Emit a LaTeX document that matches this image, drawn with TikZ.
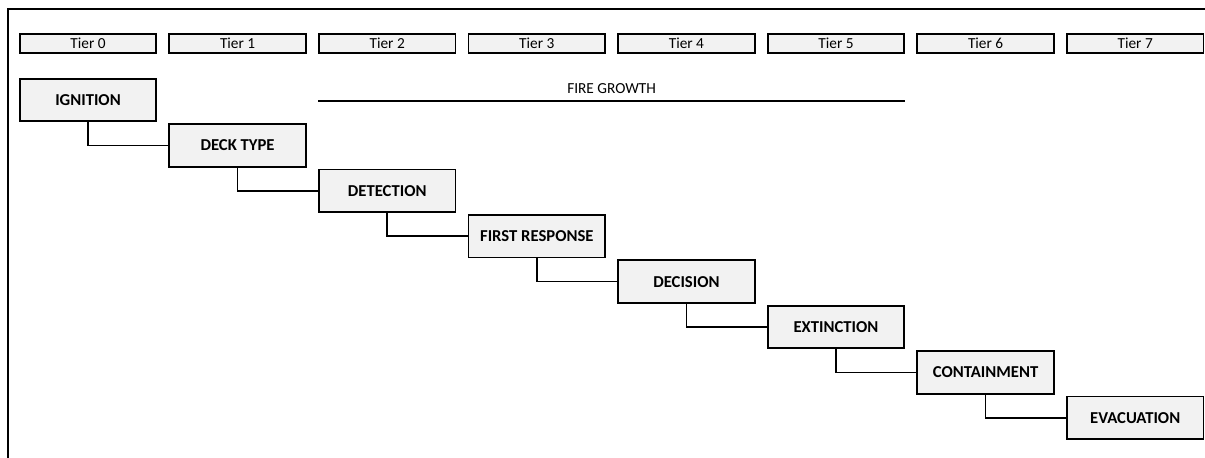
\documentclass[tikz,border=0pt]{standalone}
\usepackage{fontspec}
\setmainfont{Carlito}
\usepackage{tikz}
\usetikzlibrary{positioning}
\definecolor{boxfill}{RGB}{242,242,242}

\begin{document}
\begin{tikzpicture}[
  node distance = 0.75pt and 8.4pt,
  tier/.style = {
    rectangle, draw=black, fill=boxfill, line width=1.3pt,
    minimum width=102.5pt, minimum height=14.5pt, inner sep=1pt,
    font=\fontsize{11.5}{13}\selectfont
  },
  stage/.style = {
    rectangle, draw=black, fill=boxfill, line width=1.3pt,
    minimum width=102.5pt, minimum height=32pt, inner sep=1pt,
    font=\fontsize{12.5}{14}\selectfont\bfseries
  },
  link/.style = {line width=1.3pt}
]
\useasboundingbox (0,0) rectangle (903.75pt,-342.75pt);
% outer frame, cut by the page on the right and at the bottom
\draw[line width=1.3pt] (6pt,-345pt) -- (6pt,-6.75pt) -- (906pt,-6.75pt);

% tier header row
\node[tier] (t0) at (66pt,-32.6pt) {Tier 0};
\node[tier, right=of t0] (t1) {Tier 1};
\node[tier, right=of t1] (t2) {Tier 2};
\node[tier, right=of t2] (t3) {Tier 3};
\node[tier, right=of t3] (t4) {Tier 4};
\node[tier, right=of t4] (t5) {Tier 5};
\node[tier, right=of t5] (t6) {Tier 6};
\node[tier, right=of t6] (t7) {Tier 7};

% fire growth span
\coordinate[below=35pt of t2.south west] (fga);
\coordinate[below=35pt of t5.south east] (fgb);
\draw[link] (fga) -- node[above=1pt, font=\fontsize{11.5}{13}\selectfont] (fg) {FIRE GROWTH} (fgb);

% stages
\node[stage] (ign) at (66pt,-75pt) {IGNITION};
\node[stage, below right=of ign] (deck) {DECK TYPE};
\node[stage, below right=of deck] (det) {DETECTION};
\node[stage, below right=of det] (resp) {FIRST RESPONSE};
\node[stage, below right=of resp] (dec) {DECISION};
\node[stage, below right=of dec] (ext) {EXTINCTION};
\node[stage, below right=of ext] (cont) {CONTAINMENT};
\node[stage, below right=of cont] (evac) {EVACUATION};

\draw[link] (ign) |- (deck);
\draw[link] (deck) |- (det);
\draw[link] (det) |- (resp);
\draw[link] (resp) |- (dec);
\draw[link] (dec) |- (ext);
\draw[link] (ext) |- (cont);
\draw[link] (cont) |- (evac);
\end{tikzpicture}
\end{document}
